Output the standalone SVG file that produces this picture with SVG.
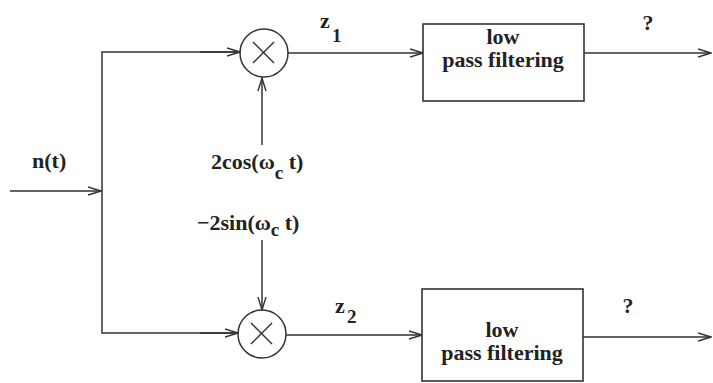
<svg xmlns="http://www.w3.org/2000/svg" width="713" height="383" viewBox="0 0 713 383">
<defs>
<marker id="arr" markerWidth="14" markerHeight="10" refX="13" refY="5" orient="auto" markerUnits="userSpaceOnUse">
<path d="M0,1 L13,5 L0,9" fill="none" stroke="#333" stroke-width="1.4"/>
</marker>
<style>
.ln{stroke:#333;stroke-width:1.5;fill:none}
.bx{stroke:#333;stroke-width:1.6;fill:#fff}
.t{font-family:"Liberation Serif","Times New Roman",serif;font-weight:bold;fill:#222;font-size:22px}
.s{font-size:19px}
</style>
</defs>
<g id="connectors">
<line class="ln" x1="10" y1="191" x2="101" y2="191" marker-end="url(#arr)"/>
<polyline class="ln" points="240,52 102,52 102,333 238,333" />
<line class="ln" x1="200" y1="52" x2="240" y2="52" marker-end="url(#arr)"/>
<line class="ln" x1="200" y1="333" x2="238" y2="333" marker-end="url(#arr)"/>
<line class="ln" x1="288" y1="53" x2="423" y2="53" marker-end="url(#arr)"/>
<line class="ln" x1="286" y1="335" x2="422" y2="335" marker-end="url(#arr)"/>
<line class="ln" x1="584" y1="53" x2="711" y2="53" marker-end="url(#arr)"/>
<line class="ln" x1="583" y1="337" x2="711" y2="337" marker-end="url(#arr)"/>
<line class="ln" x1="262" y1="145" x2="262" y2="78" marker-end="url(#arr)"/>
<line class="ln" x1="262" y1="240" x2="262" y2="310" marker-end="url(#arr)"/>
</g>
<g id="mult1">
<circle class="ln" cx="264" cy="53" r="24"/>
<line class="ln" x1="253" y1="42" x2="274" y2="63"/>
<line class="ln" x1="274" y1="42" x2="253" y2="63"/>
</g>
<g id="mult2">
<circle class="ln" cx="262" cy="334" r="24"/>
<line class="ln" x1="251" y1="323" x2="272" y2="344"/>
<line class="ln" x1="272" y1="323" x2="251" y2="344"/>
</g>
<g id="lpf1">
<rect class="bx" x="423" y="24" width="161" height="77"/>
<text class="t" x="503" y="44" text-anchor="middle">low</text>
<text class="t" x="503" y="67" text-anchor="middle">pass filtering</text>
</g>
<g id="lpf2">
<rect class="bx" x="422" y="289" width="161" height="92"/>
<text class="t" x="502" y="337" text-anchor="middle">low</text>
<text class="t" x="502" y="360" text-anchor="middle">pass filtering</text>
</g>
<g id="labels">
<text class="t" x="32" y="168">n(t)</text>
<text class="t" x="320" y="28">z</text>
<text class="t s" x="332" y="42">1</text>
<text class="t" x="335" y="313">z</text>
<text class="t s" x="347" y="323">2</text>
<text class="t" x="648" y="30" text-anchor="middle">?</text>
<text class="t" x="628" y="313" text-anchor="middle">?</text>
<text class="t" x="211" y="169">2cos(ω<tspan class="s" dy="10">c</tspan><tspan dy="-10"> t)</tspan></text>
<text class="t" x="197" y="230">−2sin(ω<tspan class="s" dy="6">c</tspan><tspan dy="-6"> t)</tspan></text>
</g>
</svg>
